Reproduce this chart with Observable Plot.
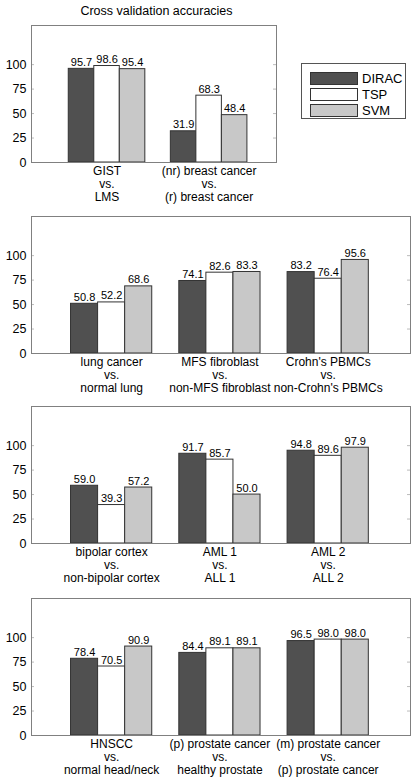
<!DOCTYPE html>
<html>
<head>
<meta charset="utf-8">
<script src="https://cdn.jsdelivr.net/npm/d3@7"></script>
<script src="https://cdn.jsdelivr.net/npm/@observablehq/plot@0.6"></script>
<style>
  body { margin: 0; background: #fff; font-family: "Liberation Sans", Arial, sans-serif; }
  #root { position: relative; width: 417px; height: 779px; overflow: hidden; }
  .panel { position: absolute; left: 0; }
  #title { position: absolute; left: 0; width: 313px; top: 4px; text-align: center; font-size: 12.5px; }
  #legend { position: absolute; left: 301px; top: 63px; width: 105px; height: 56px; border: 1px solid #555; box-sizing: border-box; }
  .li { position: absolute; left: 8px; height: 13px; font-size: 13px; line-height: 13px; }
  .sw { position: absolute; left: 0; top: 0; width: 46px; height: 11px; border: 1px solid #333; }
  .lt { position: absolute; left: 52px; top: 0px; }
</style>
</head>
<body>
<div id="root">
  <div id="title">Cross validation accuracies</div>
</div>
<script>
const series = ["DIRAC", "TSP", "SVM"];
const seriesColors = ["#505050", "#ffffff", "#c8c8c8"];
const yTicks = [0, 25, 50, 75, 100];

const groups1 = ["GIST\nvs.\nLMS", "(nr) breast cancer\nvs.\n(r) breast cancer"];
const dirac1 = [95.7, 31.9];
const tsp1 = [98.6, 68.3];
const svm1 = [95.4, 48.4];

const groups2 = ["lung cancer\nvs.\nnormal lung", "MFS fibroblast\nvs.\nnon-MFS fibroblast", "Crohn's PBMCs\nvs.\nnon-Crohn's PBMCs"];
const dirac2 = [50.8, 74.1, 83.2];
const tsp2 = [52.2, 82.6, 76.4];
const svm2 = [68.6, 83.3, 95.6];

const groups3 = ["bipolar cortex\nvs.\nnon-bipolar cortex", "AML 1\nvs.\nALL 1", "AML 2\nvs.\nALL 2"];
const dirac3 = [59.0, 91.7, 94.8];
const tsp3 = [39.3, 85.7, 89.6];
const svm3 = [57.2, 50.0, 97.9];

const groups4 = ["HNSCC\nvs.\nnormal head/neck", "(p) prostate cancer\nvs.\nhealthy prostate", "(m) prostate cancer\nvs.\n(p) prostate cancer"];
const dirac4 = [78.4, 84.4, 96.5];
const tsp4 = [70.5, 89.1, 98.0];
const svm4 = [90.9, 89.1, 98.0];

const root = document.getElementById("root");
const BAR = 0.25;

function panel(groups, vals, top, width, marginRight, xDomain) {
  const rows = [];
  groups.forEach((g, gi) => series.forEach((s, si) => rows.push({gi, si, series: s, value: vals[si][gi]})));
  const cx = d => d.gi + 1 + (d.si - 1) * BAR;
  const mt = 5, mb = 48, ml = 31, ph = 137;
  const plotW = width - ml - marginRight;
  const chart = Plot.plot({
    width, height: mt + ph + mb,
    marginTop: mt, marginBottom: mb, marginLeft: ml, marginRight,
    style: {fontFamily: '"Liberation Sans", Arial, sans-serif', fontSize: "12.5px", color: "#000", background: "transparent"},
    x: {type: "linear", domain: xDomain, axis: null},
    y: {domain: [0, 140], axis: null},
    color: {domain: series, range: seriesColors},
    marks: [
      Plot.rectY(rows, {x1: d => cx(d) - BAR / 2, x2: d => cx(d) + BAR / 2, y: "value", fill: "series", stroke: "#333", strokeWidth: 1}),
      Plot.tickY(yTicks, {y: d => d, stroke: "#bbb", insetRight: plotW - 3}),
      Plot.tickY(yTicks, {y: d => d, stroke: "#bbb", insetLeft: plotW - 3}),
      Plot.axisY({ticks: yTicks, anchor: "left", tickSize: 0, tickPadding: 5, fontSize: 12.5, label: null}),
      Plot.text(rows, {x: cx, y: "value", text: d => d.value.toFixed(1), dy: -3, lineAnchor: "bottom", fontSize: 11}),
      Plot.text(groups, {x: (d, i) => i + 1, frameAnchor: "bottom", lineAnchor: "top", dy: 3, text: d => d, fontSize: 12, lineHeight: 1.08}),
      Plot.frame({stroke: "#808080"})
    ]
  });
  chart.classList.add("panel");
  chart.style.top = (top - mt) + "px";
  root.appendChild(chart);
}

panel(groups1, [dirac1, tsp1, svm1], 25, 280, 4, [0.26, 2.66]);
panel(groups2, [dirac2, tsp2, svm2], 215.5, 417, 7, [0.26, 3.76]);
panel(groups3, [dirac3, tsp3, svm3], 406, 417, 7, [0.26, 3.76]);
panel(groups4, [dirac4, tsp4, svm4], 597.5, 417, 7, [0.26, 3.76]);

const legend = document.createElement("div");
legend.id = "legend";
const legendTops = [8, 24, 40];
series.forEach((s, i) => {
  const item = document.createElement("div");
  item.className = "li";
  item.style.top = legendTops[i] + "px";
  const sw = document.createElement("div");
  sw.className = "sw";
  sw.style.background = seriesColors[i];
  const t = document.createElement("div");
  t.className = "lt";
  t.textContent = s;
  item.appendChild(sw);
  item.appendChild(t);
  legend.appendChild(item);
});
root.appendChild(legend);
</script>
</body>
</html>
